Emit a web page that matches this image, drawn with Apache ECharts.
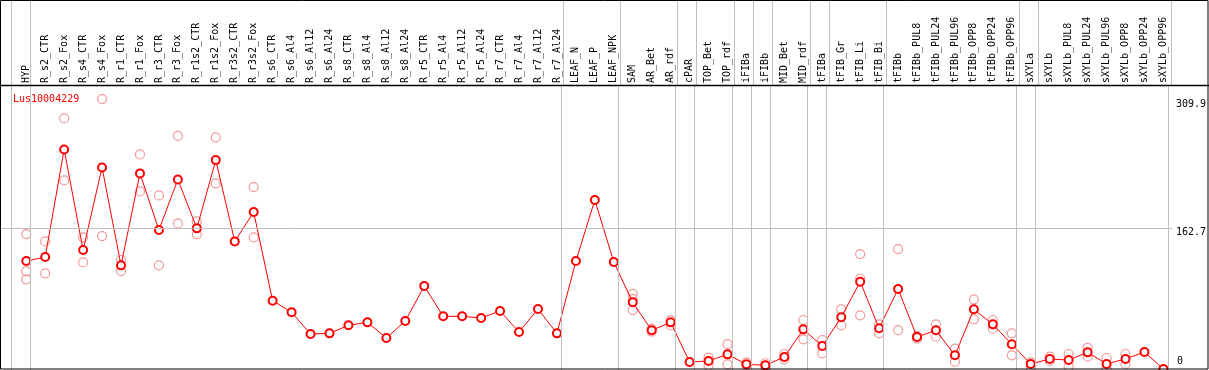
<!DOCTYPE html>
<html>
<head>
<meta charset="utf-8">
<script src="https://cdn.jsdelivr.net/npm/echarts@6.0.0/dist/echarts.min.js"></script>
<style>
  html, body { margin: 0; padding: 0; background: #fff; }
  #chartBox { width: 1209px; height: 370px; }
</style>
</head>
<body>
<div id="chartBox"></div>
<script>
// sample names, left to right
var categories = [
    'HYP', 'R_s2_CTR', 'R_s2_Fox', 'R_s4_CTR', 'R_s4_Fox', 'R_r1_CTR', 'R_r1_Fox', 'R_r3_CTR', 'R_r3_Fox',
    'R_r1s2_CTR', 'R_r1s2_Fox', 'R_r3s2_CTR', 'R_r3s2_Fox', 'R_s6_CTR', 'R_s6_Al4', 'R_s6_Al12', 'R_s6_Al24',
    'R_s8_CTR', 'R_s8_Al4', 'R_s8_Al12', 'R_s8_Al24', 'R_r5_CTR', 'R_r5_Al4', 'R_r5_Al12', 'R_r5_Al24',
    'R_r7_CTR', 'R_r7_Al4', 'R_r7_Al12', 'R_r7_Al24', 'LEAF_N', 'LEAF_P', 'LEAF_NPK', 'SAM', 'AR_Bet', 'AR_rdf',
    'cPAR', 'TOP_Bet', 'TOP_rdf', 'iFIBa', 'iFIBb', 'MID_Bet', 'MID_rdf', 'tFIBa', 'tFIB_Gr', 'tFIB_Li', 'tFIB_Bi',
    'tFIBb', 'tFIBb_PUL8', 'tFIBb_PUL24', 'tFIBb_PUL96', 'tFIBb_OPP8', 'tFIBb_OPP24', 'tFIBb_OPP96',
    'sXYLa', 'sXYLb', 'sXYLb_PUL8', 'sXYLb_PUL24', 'sXYLb_PUL96', 'sXYLb_OPP8', 'sXYLb_OPP24', 'sXYLb_OPP96'
];

// mean expression per sample
var meanValues = [
    124.6, 129.2, 252.3, 137.2, 231.7, 119.7, 224.9, 160.1, 218.0,
    162.0, 240.1, 147.1, 180.7, 79.3, 66.0, 41.2, 41.9,
    51.1, 54.5, 36.6, 56.0, 96.0, 61.4, 61.4, 59.5,
    67.5, 43.4, 69.7, 41.9, 124.6, 194.4, 123.5, 77.4, 45.4, 54.5,
    9.1, 10.3, 17.9, 6.5, 5.4, 14.9, 46.5, 27.4, 60.3, 101.0, 47.7,
    92.6, 37.7, 45.4, 16.8, 69.4, 52.2, 29.4,
    6.9, 12.6, 11.4, 20.2, 6.9, 12.6, 20.6, 1.1
];

// single replicates per sample (same order)
var replicateValues = [
    [155.5, 112.8, 103.7], [147.1, 110.6], [287.8, 216.9], [151.7, 123.1], [309.9, 153.2],
    [125.8, 113.2], [246.6, 204.3], [199.7, 119.7], [267.9, 167.7],
    [170.0, 155.2], [266.1, 213.5], [], [209.2, 151.7], [], [], [], [],
    [], [], [], [], [], [], [], [],
    [], [], [], [], [], [], [], [87, 81, 68.6], [47, 44], [57, 51],
    [], [14.1, 4.9], [29.7, 6.5], [8.8, 4.9], [7.7, 3.1], [18.3, 12.2], [57.2, 35.1], [34.3, 19.1],
    [69.4, 51.1], [132.6, 104.4, 62.5], [52.3, 41.9],
    [138.3, 45.7], [39, 36], [52.2, 38.1], [24.4, 9.5], [80.8, 58.0], [57.2, 47.2], [41.9, 16.8],
    [8.8, 3.1], [15.2, 10.3], [18.3, 3.8], [25.2, 15.2], [13.7, 1.5], [18.3, 6.9], [], []
];

// sample index after which a group separator is drawn
var groupEnds = [0, 1, 29, 32, 35, 36, 38, 39, 40, 42, 43, 46, 53, 54, 61];

var yTickValues = [0, 162.7, 309.9];
var geneName = 'Lus10004229';

function buildCSHY() {
    var myChart = echarts.init(document.getElementById('chartBox'));
    var monoFont = 'DejaVu Sans Mono';

    var meanData = [];
    var repData = [];
    var labelTicks = [];
    for (var i = 0; i < categories.length; i++) {
        meanData.push([i + 1, meanValues[i]]);
        labelTicks.push(i + 1);
        for (var j = 0; j < replicateValues[i].length; j++) {
            repData.push([i + 1, replicateValues[i][j]]);
        }
    }

    var sepLines = groupEnds.map(function (k) {
        return { xAxis: k + 0.23 };
    });

    var xMin = -0.385, xMax = 61.5;
    var yMax = 326;

    var option = {
        animation: false,
        backgroundColor: '#fff',
        title: {
            text: geneName,
            left: 8,
            top: 89,
            textStyle: {
                color: '#ff0000',
                fontFamily: monoFont,
                fontSize: 10,
                fontWeight: 'normal'
            }
        },
        grid: [
            { left: 0, right: 33, top: 0, height: 85 },
            { left: 0, right: 33, top: 85, bottom: 0 }
        ],
        xAxis: [
            {
                gridIndex: 0,
                type: 'value',
                min: xMin,
                max: xMax,
                show: false
            },
            {
                gridIndex: 1,
                type: 'value',
                min: xMin,
                max: xMax,
                position: 'top',
                axisLine: { show: false },
                axisTick: { show: false },
                splitLine: { show: false },
                axisLabel: {
                    customValues: labelTicks,
                    rotate: 90,
                    margin: 2,
                    padding: [0, 0, 3, 0],
                    color: '#000',
                    fontFamily: monoFont,
                    fontSize: 10,
                    formatter: function (v) {
                        return categories[Math.round(v) - 1] || '';
                    }
                }
            }
        ],
        yAxis: [
            {
                gridIndex: 0,
                type: 'value',
                min: 0,
                max: 1,
                show: false
            },
            {
                gridIndex: 1,
                type: 'value',
                position: 'right',
                min: 0,
                max: yMax,
                axisLine: { show: false },
                axisTick: { show: false },
                splitLine: { show: false },
                axisLabel: {
                    customValues: yTickValues.slice(1),
                    margin: 3,
                    verticalAlign: 'top',
                    color: '#000',
                    fontFamily: monoFont,
                    fontSize: 10,
                    formatter: function (v) { return String(v); }
                }
            },
            {
                gridIndex: 1,
                type: 'value',
                position: 'right',
                min: 0,
                max: yMax,
                axisLine: { show: false },
                axisTick: { show: false },
                splitLine: { show: false },
                axisLabel: {
                    customValues: yTickValues.slice(0, 1),
                    margin: 4,
                    verticalAlign: 'bottom',
                    padding: [0, 0, 4, 0],
                    color: '#000',
                    fontFamily: monoFont,
                    fontSize: 10,
                    formatter: function (v) { return String(v); }
                }
            }
        ],
        series: [
            {
                // separators through the label area
                type: 'line',
                xAxisIndex: 0,
                yAxisIndex: 0,
                data: [],
                silent: true,
                markLine: {
                    silent: true,
                    symbol: ['none', 'none'],
                    label: { show: false },
                    lineStyle: { color: '#c0c0c0', width: 1, type: 'solid' },
                    data: sepLines
                }
            },
            {
                // separators and mid line in the plot
                type: 'line',
                xAxisIndex: 1,
                yAxisIndex: 1,
                data: [],
                silent: true,
                markLine: {
                    silent: true,
                    symbol: ['none', 'none'],
                    label: { show: false },
                    lineStyle: { color: '#c0c0c0', width: 1, type: 'solid' },
                    data: sepLines.concat([{ yAxis: yTickValues[1] }])
                }
            },
            {
                type: 'scatter',
                xAxisIndex: 1,
                yAxisIndex: 1,
                symbol: 'circle',
                symbolSize: 9,
                silent: true,
                itemStyle: {
                    color: 'rgba(0,0,0,0)',
                    borderColor: '#f08080',
                    borderWidth: 1.2
                },
                data: repData
            },
            {
                type: 'line',
                xAxisIndex: 1,
                yAxisIndex: 1,
                symbol: 'emptyCircle',
                symbolSize: 8,
                silent: true,
                lineStyle: { color: '#ff0000', width: 1 },
                itemStyle: { color: '#ff0000', borderColor: '#e00000', borderWidth: 1.4 },
                data: meanData
            }
        ],
        graphic: [
            {
                type: 'rect',
                silent: true,
                z: 100,
                shape: { x: 0.5, y: 0.5, width: 1207.5, height: 368.5 },
                style: { fill: null, stroke: '#000', lineWidth: 1 }
            },
            {
                type: 'line',
                silent: true,
                z: 100,
                shape: { x1: 0, y1: 85.5, x2: 1209, y2: 85.5 },
                style: { stroke: '#000', lineWidth: 1.5 }
            }
        ]
    };

    myChart.setOption(option);
}

buildCSHY();
</script>
</body>
</html>
